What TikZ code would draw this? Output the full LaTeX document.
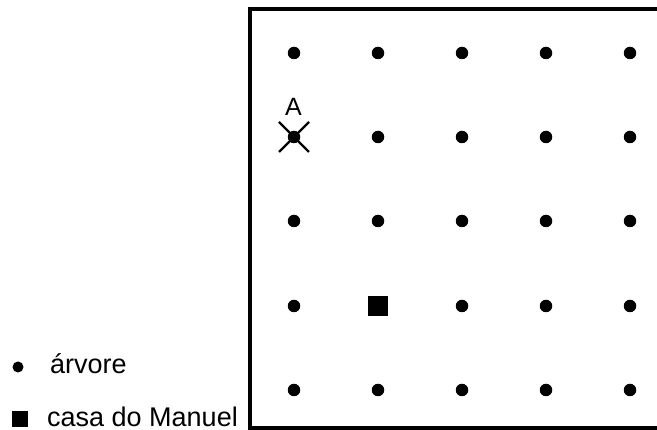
\documentclass[tikz,border=0pt]{standalone}
\usepackage{fontspec}
\setmainfont{Liberation Sans}
\usetikzlibrary{calc}
\begin{document}
\begin{tikzpicture}[x=1pt,y=-1pt,
  tree/.style={circle,fill=black,inner sep=0pt,minimum size=12.5pt},
  house/.style={rectangle,fill=black,inner sep=0pt,minimum size=20pt},
  lbl/.style={font=\fontsize{27}{31}\selectfont,inner sep=0pt,anchor=base west},
  frame/.style={line width=4pt}]
\useasboundingbox (0,0) rectangle (657,430);
\draw[frame] (657,9.5) -- (250,9.5) -- (250,428) -- (657,428);
\foreach \c [count=\i] in {294,378,462,546,630}{
  \foreach \r [count=\j] in {53,137,221,306,390}{
    \ifnum\i=2 \ifnum\j=4 \else \node[tree] (d\i\j) at (\c,\r) {}; \fi
    \else \node[tree] (d\i\j) at (\c,\r) {}; \fi
  }
}
\node[house] (home) at (378,306) {};
\draw[line width=2.3pt] ($(d12)+(-15,-15)$) -- ($(d12)+(15,15)$);
\draw[line width=2.3pt] ($(d12)+(15,-15)$) -- ($(d12)+(-15,15)$);
\node[font=\fontsize{25}{29}\selectfont,inner sep=0pt,anchor=base] (A) at (293.5,116) {A};
\node[tree,minimum size=11pt] (legtree) at (18,367) {};
\node[lbl] (legtreetxt) at (50,374) {árvore};
\node[house,minimum size=16pt] (leghouse) at (20,419.5) {};
\node[lbl] (leghousetxt) at (47,426.5) {casa do Manuel};
\end{tikzpicture}
\end{document}
